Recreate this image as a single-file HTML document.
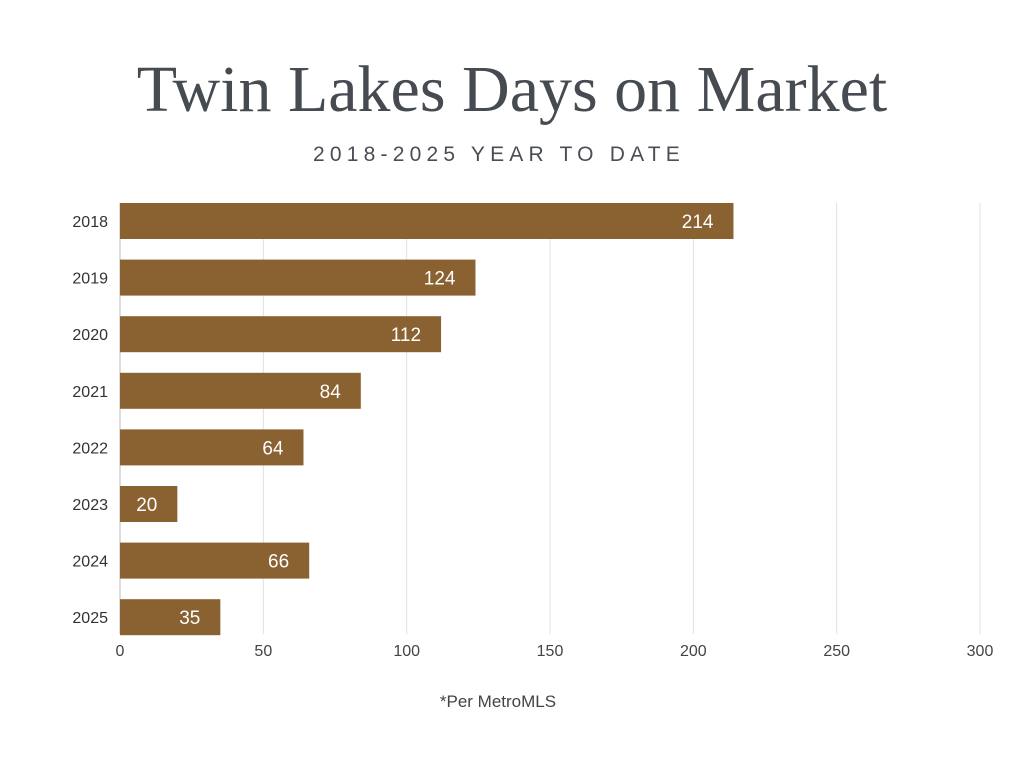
<!DOCTYPE html>
<html><head><meta charset="utf-8"><style>
body{margin:0;width:1024px;height:768px;background:#fff;overflow:hidden;font-family:"Liberation Sans",sans-serif}
</style></head><body>
<svg width="1024" height="768">
<text x="512" y="111" text-anchor="middle" font-family="Liberation Serif, serif" font-size="66" fill="#464b52">Twin Lakes Days on Market</text>
<text x="499" y="161" text-anchor="middle" font-size="21" letter-spacing="5.2" fill="#4a4e54">2018-2025 YEAR TO DATE</text>
<g id="grid"></g><g id="bars"></g>
<text x="498" y="707" text-anchor="middle" font-size="17" fill="#444">*Per MetroMLS</text>
</svg>
<script>
const categories=["2018","2019","2020","2021","2022","2023","2024","2025"];
const values=[214,124,112,84,64,20,66,35];
const ticks=[0,50,100,150,200,250,300];
const ns="http://www.w3.org/2000/svg";
const x0=120,x1=980,plotTop=203,pitch=56.6,bh=36,maxV=300;
const xs=v=>x0+v/maxV*(x1-x0);
const yRow=i=>plotTop+i*pitch;
const grid=document.getElementById('grid'),bars=document.getElementById('bars');
function mk(tag,attrs,parent,txt){const e=document.createElementNS(ns,tag);for(const k in attrs)e.setAttribute(k,attrs[k]);if(txt!==undefined)e.textContent=txt;parent.appendChild(e);return e;}
ticks.forEach(t=>{
 const l=mk('line',{x1:xs(t),x2:xs(t),y1:plotTop,y2:634,stroke:t===0?'#bbb':'#e0e0e0','stroke-width':1},grid);
 
 
 const tx=mk('text',{x:xs(t),y:656,'text-anchor':'middle','font-size':16,fill:'#444'},grid,String(t));
 
 
});
categories.forEach((c,i)=>{
 const y=yRow(i);
 const r=mk('rect',{x:x0,y:y,width:xs(values[i])-x0,height:bh,fill:'#8a6130'},bars);
 
 
 const lb=mk('text',{x:108,y:y+bh/2+6,'text-anchor':'end','font-size':16,fill:'#333'},bars,c);
 
 
 const v=mk('text',{x:xs(values[i])-20,y:y+bh/2+7,'text-anchor':'end','font-size':19,fill:'#fff'},bars,String(values[i]));
 
 
});
</script>
</body></html>
